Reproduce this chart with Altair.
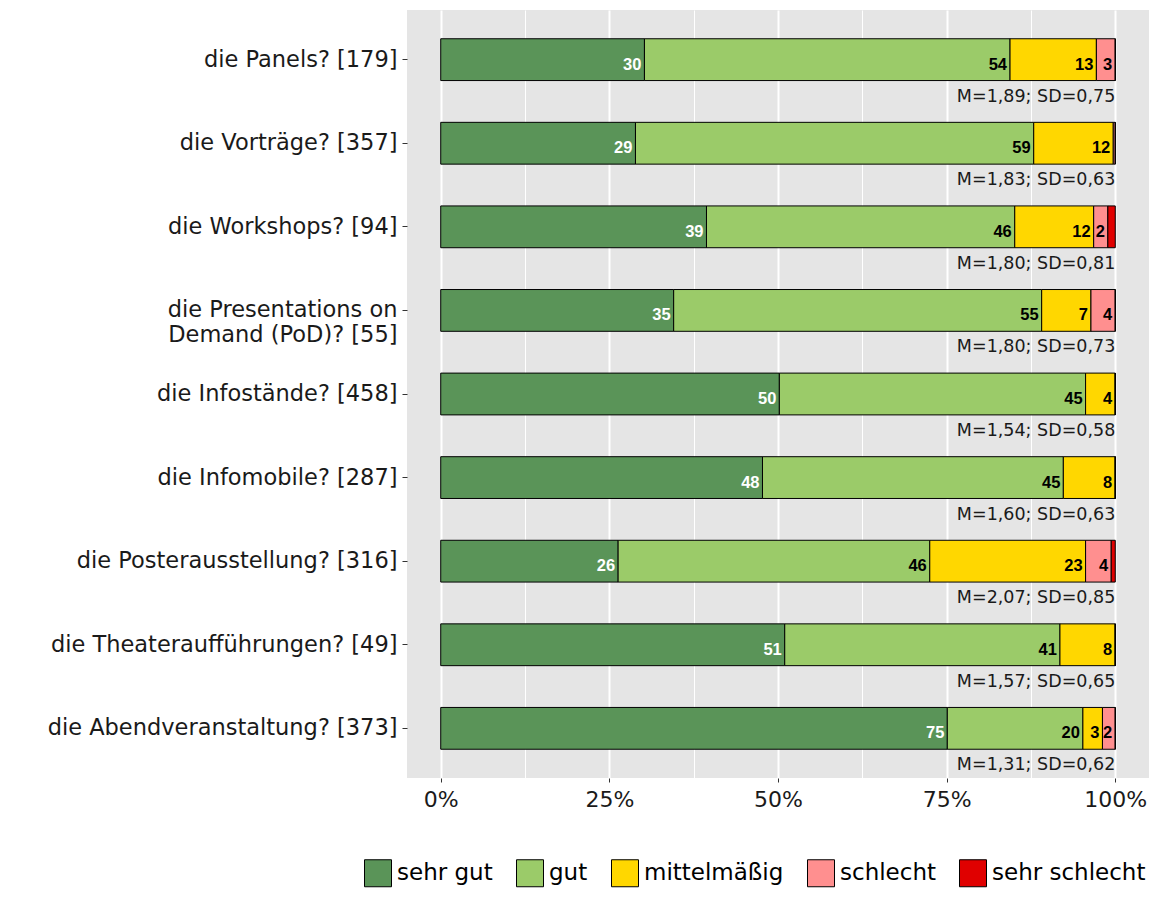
import altair as alt
import pandas as pd

items = ["die Panels? [179]", "die Vorträge? [357]", "die Workshops? [94]",
         "die Presentations on\nDemand (PoD)? [55]", "die Infostände? [458]",
         "die Infomobile? [287]", "die Posterausstellung? [316]",
         "die Theateraufführungen? [49]", "die Abendveranstaltung? [373]"]
ratings = ["sehr gut", "gut", "mittelmäßig", "schlecht", "sehr schlecht"]

sehr_gut = [30.2, 28.9, 39.4, 34.5, 50.2, 47.7, 26.3, 51.0, 75.1]
gut = [54.2, 59.1, 45.7, 54.5, 45.4, 44.6, 46.2, 40.8, 20.1]
mittel = [12.8, 11.8, 11.7, 7.3, 4.4, 7.7, 23.1, 8.2, 2.9]
schlecht = [2.8, 0.3, 2.1, 3.6, 0.0, 0.0, 3.8, 0.0, 1.9]
sehr_schlecht = [0.0, 0.0, 1.1, 0.0, 0.0, 0.0, 0.6, 0.0, 0.0]

stats = ["M=1,89; SD=0,75", "M=1,83; SD=0,63", "M=1,80; SD=0,81",
         "M=1,80; SD=0,73", "M=1,54; SD=0,58", "M=1,60; SD=0,63",
         "M=2,07; SD=0,85", "M=1,57; SD=0,65", "M=1,31; SD=0,62"]

colors = ["#5A9458", "#9BCB69", "#FFD700", "#FF8F8F", "#E00000"]
x_ticks = [0, 0.125, 0.25, 0.375, 0.5, 0.625, 0.75, 0.875, 1.0]

series = [sehr_gut, gut, mittel, schlecht, sehr_schlecht]
rows = []
for i, item in enumerate(items):
    for r, name in enumerate(ratings):
        rows.append({"item": item, "rating": name, "rank": r, "pct": series[r][i]})
df = pd.DataFrame(rows)
stat_df = pd.DataFrame({"item": items, "stat": stats})

minor_test = "(round(datum.value * 8) % 2) == 1"

x_scale = alt.Scale(domain=[-0.05, 1.05], nice=False, zero=False)
x_axis = alt.Axis(
    values=x_ticks, title=None, domain=False,
    labelExpr="(round(datum.value * 8) % 2) == 1 ? '' : format(datum.value, '.0%')",
    labelFont="DejaVu Sans", labelFontSize=22, labelColor="#1a1a1a",
    labelPadding=7,
    tickColor="#333333", tickSize=4, tickWidth=1,
    tickOpacity={"condition": {"test": minor_test, "value": 0}, "value": 1},
    gridColor="white",
    gridWidth={"condition": {"test": minor_test, "value": 1}, "value": 2},
)

y_enc = alt.Y(
    "item:N", sort=items, title=None,
    scale=alt.Scale(paddingInner=0.5, paddingOuter=0.344),
    axis=alt.Axis(
        labelExpr="split(datum.label, '\\n')",
        labelFont="DejaVu Sans", labelFontSize=22.5, labelColor="#1a1a1a",
        labelLineHeight=25, labelPadding=5, labelLimit=500,
        tickColor="#333333", tickSize=5, tickWidth=1, domain=False,
        gridColor="white", gridWidth=2,
    ),
)

base = alt.Chart(df).transform_stack(
    stack="pct", groupby=["item"], as_=["x0", "x1"],
    sort=[alt.SortField("rank", order="ascending")], offset="normalize",
)

bars = base.mark_bar(stroke="black", strokeWidth=1).encode(
    x=alt.X("x0:Q", scale=x_scale, axis=x_axis),
    x2="x1:Q",
    y=y_enc,
    color=alt.Color(
        "rating:N",
        scale=alt.Scale(domain=ratings, range=colors),
        legend=alt.Legend(
            orient="none", direction="horizontal", legendX=-43, legendY=849,
            title=None, symbolType="square", symbolSize=729,
            symbolStrokeColor="black", symbolStrokeWidth=1, symbolOpacity=1,
            labelFont="DejaVu Sans", labelFontSize=23, labelColor="black",
            columnPadding=21, labelOffset=5,
        ),
    ),
)

labels = base.transform_filter("datum.pct >= 1.5").transform_calculate(
    lab="'' + round(datum.pct)"
).mark_text(
    align="right", baseline="alphabetic", dx=-3, dy=10,
    font="Liberation Sans", fontWeight="bold", fontSize=16.5,
).encode(
    x=alt.X("x1:Q", scale=x_scale),
    y=alt.Y("item:N", sort=items),
    text="lab:N",
    color=alt.condition("datum.rank == 0", alt.value("white"), alt.value("black")),
)

stat_text = alt.Chart(stat_df).mark_text(
    align="right", baseline="alphabetic", dy=42,
    font="DejaVu Sans", fontSize=17.5, color="#1a1a1a",
).encode(
    x=alt.datum(1),
    y=alt.Y("item:N", sort=items),
    text="stat:N",
)

chart = alt.layer(bars, labels, stat_text).properties(
    width=742, height=768,
    autosize=alt.AutoSizeParams(type="none"),
    padding={"left": 399, "top": 2, "right": 12, "bottom": 110},
).configure_view(fill="#E5E5E5", stroke=None)

chart.save("out.html", embed_options={"renderer": "svg", "actions": False})
